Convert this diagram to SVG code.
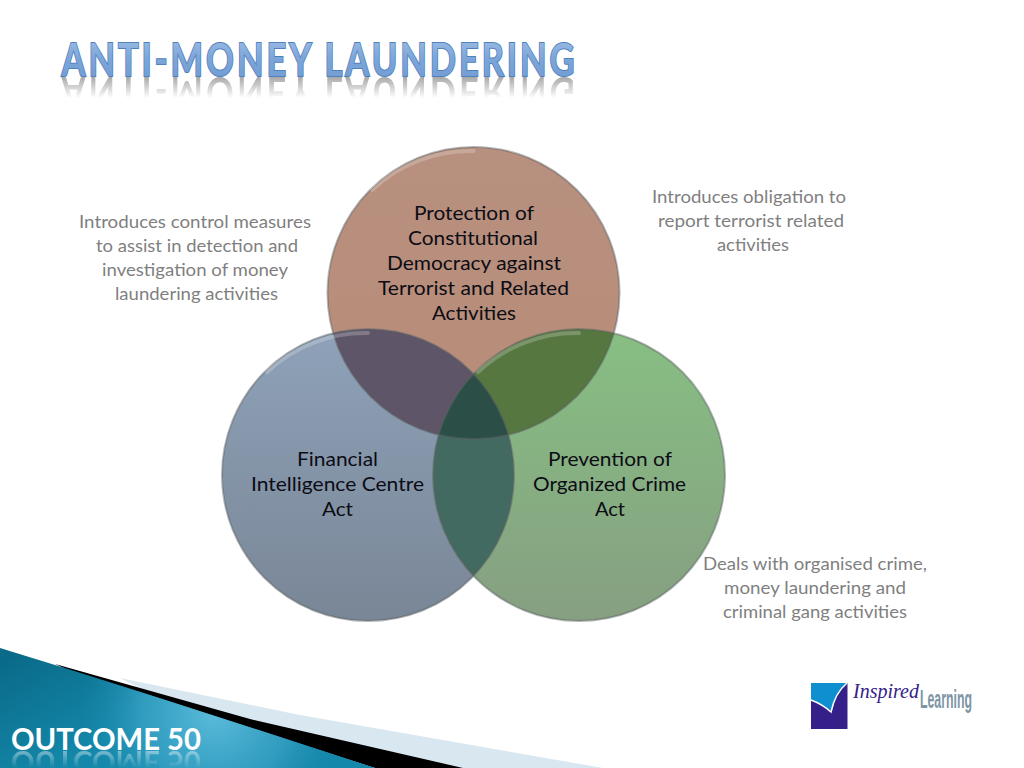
<svg xmlns="http://www.w3.org/2000/svg" width="1024" height="768" viewBox="0 0 1024 768">
<style>
text{font-family:"Lato","Liberation Sans",sans-serif}
.note{font-size:17.5px;fill:#7f7f7f;text-anchor:middle}
.lab{font-size:20px;fill:#0c0c14;text-anchor:middle}
.title{font-size:46px;font-weight:700;letter-spacing:4px}
.ring{fill:none;stroke:#5a5f62;stroke-opacity:.45;stroke-width:2}
.shine{fill:none;stroke:#fff;stroke-opacity:.22;stroke-width:4;stroke-linecap:round}
</style>
<defs>
<linearGradient id="gRed" x1="0" y1="0" x2="0" y2="1"><stop offset="0" stop-color="#b8907f"/><stop offset="1" stop-color="#b88c78"/></linearGradient>
<linearGradient id="gBlue" x1="0" y1="0" x2="0" y2="1"><stop offset="0" stop-color="#8fa2b9"/><stop offset="1" stop-color="#798696"/></linearGradient>
<linearGradient id="gGreen" x1="0" y1="0" x2="0" y2="1"><stop offset="0" stop-color="#87bf83"/><stop offset="1" stop-color="#869f81"/></linearGradient>
<linearGradient id="gTeal" gradientUnits="userSpaceOnUse" x1="0" y1="660" x2="60" y2="768"><stop offset="0" stop-color="#0a6a88"/><stop offset="1" stop-color="#1488aa"/></linearGradient>
<radialGradient id="gGlow" gradientUnits="userSpaceOnUse" cx="215" cy="712" r="135"><stop offset="0" stop-color="#5cbcdb"/><stop offset=".55" stop-color="#3aa3c6" stop-opacity=".75"/><stop offset="1" stop-color="#1488aa" stop-opacity="0"/></radialGradient>
<linearGradient id="gTitle" x1="0" y1="0" x2="0" y2="1"><stop offset="0" stop-color="#a6c3e8"/><stop offset=".5" stop-color="#7da5d8"/><stop offset="1" stop-color="#6f9bd2"/></linearGradient>
<linearGradient id="fade" gradientUnits="userSpaceOnUse" x1="0" y1="76" x2="0" y2="98"><stop offset="0" stop-color="#fff" stop-opacity=".8"/><stop offset="1" stop-color="#fff" stop-opacity="0"/></linearGradient>
<linearGradient id="fade2" gradientUnits="userSpaceOnUse" x1="0" y1="750" x2="0" y2="768"><stop offset="0" stop-color="#fff" stop-opacity=".45"/><stop offset="1" stop-color="#fff" stop-opacity="0"/></linearGradient>
<mask id="mFade" maskUnits="userSpaceOnUse" x="40" y="74" width="560" height="26"><rect x="40" y="74" width="560" height="26" fill="url(#fade)"/></mask>
<mask id="mFade2" maskUnits="userSpaceOnUse" x="0" y="748" width="220" height="20"><rect x="0" y="748" width="220" height="20" fill="url(#fade2)"/></mask>
<clipPath id="cRed"><circle cx="473.5" cy="293" r="146"/></clipPath>
<clipPath id="cBlue"><circle cx="368" cy="475" r="146"/></clipPath>
<clipPath id="cGreen"><circle cx="579" cy="475" r="146"/></clipPath>
</defs>
<rect width="1024" height="768" fill="#fff"/>

<g id="title">
<g mask="url(#mFade)"><text class="title" x="319.5" y="76" transform="translate(0,153) scale(1,-1)" text-anchor="middle" textLength="516" lengthAdjust="spacingAndGlyphs" fill="#8d8d8d">ANTI-MONEY LAUNDERING</text></g>
<text class="title" x="319.5" y="76" text-anchor="middle" textLength="516" lengthAdjust="spacingAndGlyphs" fill="url(#gTitle)" stroke="#4f81bd" stroke-width="2" paint-order="stroke">ANTI-MONEY LAUNDERING</text>
</g>

<g id="footer">
<polygon points="120,678 300,715 603,768 300,768" fill="#d9e7f0"/>
<polygon points="55,664 250,719 463,768 375,768 68,670" fill="#000"/>
<path id="teal" d="M0,648 L68,669 Q220,717 375,768 L0,768 Z" fill="url(#gTeal)"/>
<path d="M0,648 L68,669 Q220,717 375,768 L0,768 Z" fill="url(#gGlow)"/>
<g mask="url(#mFade2)"><text x="106" y="750" transform="translate(0,1501) scale(1,-1)" text-anchor="middle" textLength="190" lengthAdjust="spacingAndGlyphs" font-size="30" font-weight="700" fill="#fff">OUTCOME 50</text></g>
<text id="outcome" x="106" y="750" text-anchor="middle" textLength="190" lengthAdjust="spacingAndGlyphs" font-size="30" font-weight="700" fill="#fff">OUTCOME 50</text>
</g>

<g id="node-red"><circle cx="473.5" cy="293" r="146" fill="url(#gRed)"/></g>
<g id="node-blue"><circle cx="368" cy="475" r="146" fill="url(#gBlue)"/></g>
<g id="node-green"><circle cx="579" cy="475" r="146" fill="url(#gGreen)"/></g>

<g id="overlaps">
<g clip-path="url(#cRed)"><circle cx="368" cy="475" r="146" fill="#5e5568"/><circle cx="579" cy="475" r="146" fill="#56773f"/></g>
<g clip-path="url(#cBlue)"><circle cx="579" cy="475" r="146" fill="#436a61"/></g>
<g clip-path="url(#cRed)"><g clip-path="url(#cBlue)"><circle cx="579" cy="475" r="146" fill="#2b4e47"/></g></g>
</g>

<g id="rings">
<circle class="ring" cx="473.5" cy="293" r="146"/>
<circle class="ring" cx="368" cy="475" r="146"/>
<circle class="ring" cx="579" cy="475" r="146"/>
<path class="shine" d="M372,190 A143,143 0 0 1 473.500,151"/>
<path class="shine" d="M267,372 A143,143 0 0 1 368,333"/>
<path class="shine" d="M478,372 A143,143 0 0 1 579,333"/>
</g>

<g id="node-labels">
<text class="lab" x="474" y="220" textLength="120" lengthAdjust="spacingAndGlyphs">Protection of</text>
<text class="lab" x="473" y="245" textLength="130" lengthAdjust="spacingAndGlyphs">Constitutional</text>
<text class="lab" x="474" y="270" textLength="174" lengthAdjust="spacingAndGlyphs">Democracy against</text>
<text class="lab" x="473.5" y="295" textLength="191" lengthAdjust="spacingAndGlyphs">Terrorist and Related</text>
<text class="lab" x="474" y="320" textLength="84" lengthAdjust="spacingAndGlyphs">Activities</text>
<text class="lab" x="337.5" y="466" textLength="81" lengthAdjust="spacingAndGlyphs">Financial</text>
<text class="lab" x="337.5" y="491" textLength="173" lengthAdjust="spacingAndGlyphs">Intelligence Centre</text>
<text class="lab" x="337.5" y="516" textLength="31" lengthAdjust="spacingAndGlyphs">Act</text>
<text class="lab" x="610" y="466" textLength="124" lengthAdjust="spacingAndGlyphs">Prevention of</text>
<text class="lab" x="609.5" y="491" textLength="153" lengthAdjust="spacingAndGlyphs">Organized Crime</text>
<text class="lab" x="610" y="516" textLength="30" lengthAdjust="spacingAndGlyphs">Act</text>
</g>

<g id="note-left">
<text class="note" x="195" y="228" textLength="232" lengthAdjust="spacingAndGlyphs">Introduces control measures</text>
<text class="note" x="197" y="252" textLength="202" lengthAdjust="spacingAndGlyphs">to assist in detection and</text>
<text class="note" x="195" y="276" textLength="186" lengthAdjust="spacingAndGlyphs">investigation of money</text>
<text class="note" x="196.500" y="300" textLength="163" lengthAdjust="spacingAndGlyphs">laundering activities</text>
</g>
<g id="note-right">
<text class="note" x="749" y="203" textLength="194" lengthAdjust="spacingAndGlyphs">Introduces obligation to</text>
<text class="note" x="751" y="227" textLength="186" lengthAdjust="spacingAndGlyphs">report terrorist related</text>
<text class="note" x="753" y="251" textLength="72" lengthAdjust="spacingAndGlyphs">activities</text>
</g>
<g id="note-bottom">
<text class="note" x="815" y="570" textLength="224" lengthAdjust="spacingAndGlyphs">Deals with organised crime,</text>
<text class="note" x="815" y="594" textLength="182" lengthAdjust="spacingAndGlyphs">money laundering and</text>
<text class="note" x="815" y="618" textLength="184" lengthAdjust="spacingAndGlyphs">criminal gang activities</text>
</g>

<g id="logo">
<rect x="811" y="683" width="36.500" height="46" fill="#35208a"/>
<path d="M811,683 H847 Q836,692 832,711 Q820,703 811,700 Z" fill="#0f8fd0"/>
<path d="M811,700 Q822,704 831,712 Q835,693 847,683" fill="none" stroke="#fff" stroke-width="1.500"/>
<text x="853" y="698" font-size="20" font-style="italic" fill="#35208a" textLength="66" lengthAdjust="spacingAndGlyphs" style="font-family:'Liberation Serif',serif">Inspired</text>
<text x="920" y="708" font-size="25" font-weight="700" fill="#7d95a5" textLength="52" lengthAdjust="spacingAndGlyphs" style="font-family:'Liberation Sans',sans-serif">Learning</text>
</g>
</svg>
